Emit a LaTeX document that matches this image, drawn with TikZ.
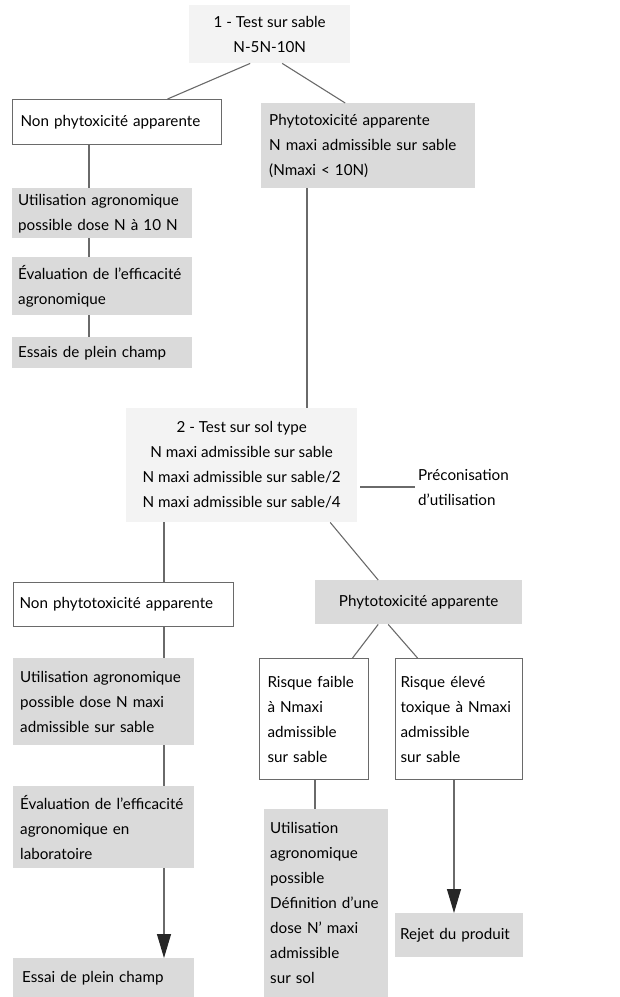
\documentclass[tikz,border=0pt]{standalone}
\usepackage{fontspec}
\setmainfont{Lato}
\usetikzlibrary{arrows.meta}
\definecolor{boxgrey}{HTML}{DADADA}
\definecolor{boxpale}{HTML}{F3F3F3}
\definecolor{lineGrey}{HTML}{6A6A6A}
\tikzstyle{txt} = [font=\fontsize{15.2}{25}\selectfont, text=black]
\tikzstyle{whiteBox} = [txt, rectangle, anchor=north west, align=left, draw=lineGrey, line width=1.1pt, fill=white, inner xsep=8pt, inner ysep=0pt]
\tikzstyle{greyBox} = [txt, rectangle, anchor=north west, align=left, fill=boxgrey, inner xsep=8pt, inner ysep=0pt]
\tikzstyle{paleBox} = [txt, rectangle, anchor=north west, align=center, fill=boxpale, inner ysep=0pt]
\tikzstyle{link} = [draw=lineGrey, line width=1.1pt]
\tikzstyle{bigArrow} = [link, -{Triangle[width=14pt,length=24pt,color=black!85]}]

\begin{document}
\begin{tikzpicture}[x=1pt, y=-1pt]
    \useasboundingbox (0,0) rectangle (620,997);
    % first test
    \node[paleBox, minimum width=161pt, minimum height=58pt] (test1) at (189,5) {1 - Test sur sable\\N-5N-10N};
    \node[whiteBox, text width=193pt, minimum height=45pt] (nonPhyto1) at (12,99) {Non phytoxicité apparente};
    \node[greyBox, inner xsep=8pt, text width=198pt, minimum height=85pt] (phyto1) at (261,103) {Phytotoxicité apparente\\N maxi admissible sur sable\\(Nmaxi < 10N)};
    \node[greyBox, inner xsep=6pt, text width=168pt, minimum height=50pt] (use1) at (12,188) {Utilisation agronomique\\possible dose N à 10 N};
    \node[greyBox, inner xsep=6pt, text width=168pt, minimum height=58pt] (eval1) at (12,257) {Évaluation de l’efficacité\\agronomique};
    \node[greyBox, inner xsep=6pt, text width=168pt, minimum height=31pt] (field1) at (12,337) {Essais de plein champ};
    % second test
    \node[paleBox, minimum width=231pt, minimum height=114pt] (test2) at (126,408) {2 - Test sur sol type\\N maxi admissible sur sable\\N maxi admissible sur sable/2\\N maxi admissible sur sable/4};
    \node[txt, anchor=west, align=left, inner sep=3pt] (advice) at (415,487) {Préconisation\\d’utilisation};
    \node[whiteBox, inner xsep=6pt, text width=208pt, minimum height=44pt] (nonPhyto2) at (13,582) {Non phytotoxicité apparente};
    \node[greyBox, inner xsep=7pt, text width=167pt, minimum height=87pt] (use2) at (13,658) {Utilisation agronomique\\possible dose N maxi\\admissible sur sable};
    \node[greyBox, inner xsep=7pt, text width=167pt, minimum height=82pt] (eval2) at (13,786) {Évaluation de l’efficacité\\agronomique en\\laboratoire};
    \node[greyBox, inner xsep=9pt, text width=163pt, minimum height=39pt] (field2) at (13,958) {Essai de plein champ};
    \node[paleBox, fill=boxgrey, minimum width=207pt, minimum height=44pt] (phyto2) at (315,580) {Phytotoxicité apparente};
    \node[whiteBox, inner xsep=8pt, text width=93pt, minimum height=121pt] (lowRisk) at (259,658) {Risque faible\\à Nmaxi\\admissible\\sur sable};
    \node[whiteBox, inner xsep=5pt, text width=117pt, minimum height=121pt] (highRisk) at (395,658) {Risque élevé\\toxique à Nmaxi\\admissible\\sur sable};
    \node[greyBox, inner xsep=6pt, text width=112pt, minimum height=188pt] (use3) at (264,809) {Utilisation\\agronomique\\possible\\Définition d’une\\dose N’ maxi\\admissible\\sur sol};
    \node[greyBox, inner xsep=5pt, text width=118pt, minimum height=44pt] (reject) at (395,913) {Rejet du produit};

    % vertical axes
    \coordinate (axisA) at (89,0);
    \coordinate (axisB) at (307,0);
    \coordinate (axisC) at (164,0);
    \coordinate (axisD) at (315,0);
    \coordinate (axisE) at (454,0);

    \draw[link] ([xshift=-19.5pt]test1.south) -- ([xshift=50.5pt]nonPhyto1.north);
    \draw[link] ([xshift=12.5pt]test1.south) -- ([xshift=-23pt]phyto1.north);
    \draw[link] (nonPhyto1.south -| axisA) -- (use1.north -| axisA);
    \draw[link] (use1.south -| axisA) -- (eval1.north -| axisA);
    \draw[link] (eval1.south -| axisA) -- (field1.north -| axisA);
    \draw[link] (phyto1.south -| axisB) -- (test2.north -| axisB);
    \draw[link] (test2.east |- advice.west) ++(3,0) -- (advice.west);
    \draw[link] (test2.south -| axisC) -- (nonPhyto2.north -| axisC);
    \draw[link] ([xshift=88.5pt]test2.south) -- ([xshift=-40.5pt]phyto2.north);
    \draw[link] (nonPhyto2.south -| axisC) -- (use2.north -| axisC);
    \draw[link] (use2.south -| axisC) -- (eval2.north -| axisC);
    \draw[bigArrow] (eval2.south -| axisC) -- (field2.north -| axisC);
    \draw[link] ([xshift=-40.5pt]phyto2.south) -- ([xshift=38.5pt]lowRisk.north);
    \draw[link] ([xshift=-30.5pt]phyto2.south) -- ([xshift=-41.5pt]highRisk.north);
    \draw[link] (lowRisk.south -| axisD) -- (use3.north -| axisD);
    \draw[bigArrow] (highRisk.south -| axisE) -- (reject.north -| axisE);
\end{tikzpicture}
\end{document}
